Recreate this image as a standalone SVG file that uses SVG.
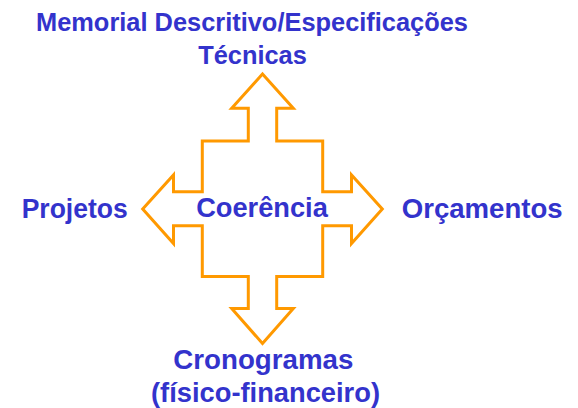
<svg xmlns="http://www.w3.org/2000/svg" width="578" height="408" viewBox="0 0 578 408">
<style>
  .t { font-family: "Liberation Sans", Arial, sans-serif; font-weight: bold; fill: #3333CC; text-anchor: middle; }
  .big { font-size: 27px; }
  .top { font-size: 25.4px; }
  .arrow { fill: #FFFFFF; stroke: #FF9900; stroke-width: 3; stroke-linejoin: miter; }
</style>
<rect width="578" height="408" fill="#FFFFFF"/>
<g id="connectors">
  <path class="arrow" d="M262.5,74 L293.3,108.3 L276.7,108.3 L276.7,141 L322.7,141 L322.7,191.7 L351.5,191.7 L351.5,175 L382.3,209 L351.5,243.5 L351.5,225.7 L322.7,225.7 L322.7,276.5 L276.7,276.5 L276.7,308.5 L293.3,308.5 L262.5,343.5 L231.7,308.5 L248.3,308.5 L248.3,276.5 L202.3,276.5 L202.3,225.7 L173.5,225.7 L173.5,243.5 L142.7,209 L173.5,175 L173.5,191.7 L202.3,191.7 L202.3,141 L248.3,141 L248.3,108.3 L231.7,108.3 Z"/>
</g>
<g id="center">
  <text class="t big" x="262" y="217" textLength="131.7" lengthAdjust="spacingAndGlyphs">Coerência</text>
</g>
<g id="top">
  <text class="t top" x="252" y="31" textLength="432" lengthAdjust="spacingAndGlyphs">Memorial Descritivo/Especificações</text>
  <text class="t top" x="252.5" y="63.5">Técnicas</text>
</g>
<g id="left">
  <text class="t big" x="74.7" y="218.3" textLength="106" lengthAdjust="spacingAndGlyphs">Projetos</text>
</g>
<g id="right">
  <text class="t big" x="482.2" y="217.5" textLength="161" lengthAdjust="spacingAndGlyphs">Orçamentos</text>
</g>
<g id="bottom">
  <text class="t big" x="263.3" y="368.5" textLength="180" lengthAdjust="spacingAndGlyphs">Cronogramas</text>
  <text class="t big" x="265.5" y="401.5" textLength="229" lengthAdjust="spacingAndGlyphs">(físico-financeiro)</text>
</g>
</svg>
